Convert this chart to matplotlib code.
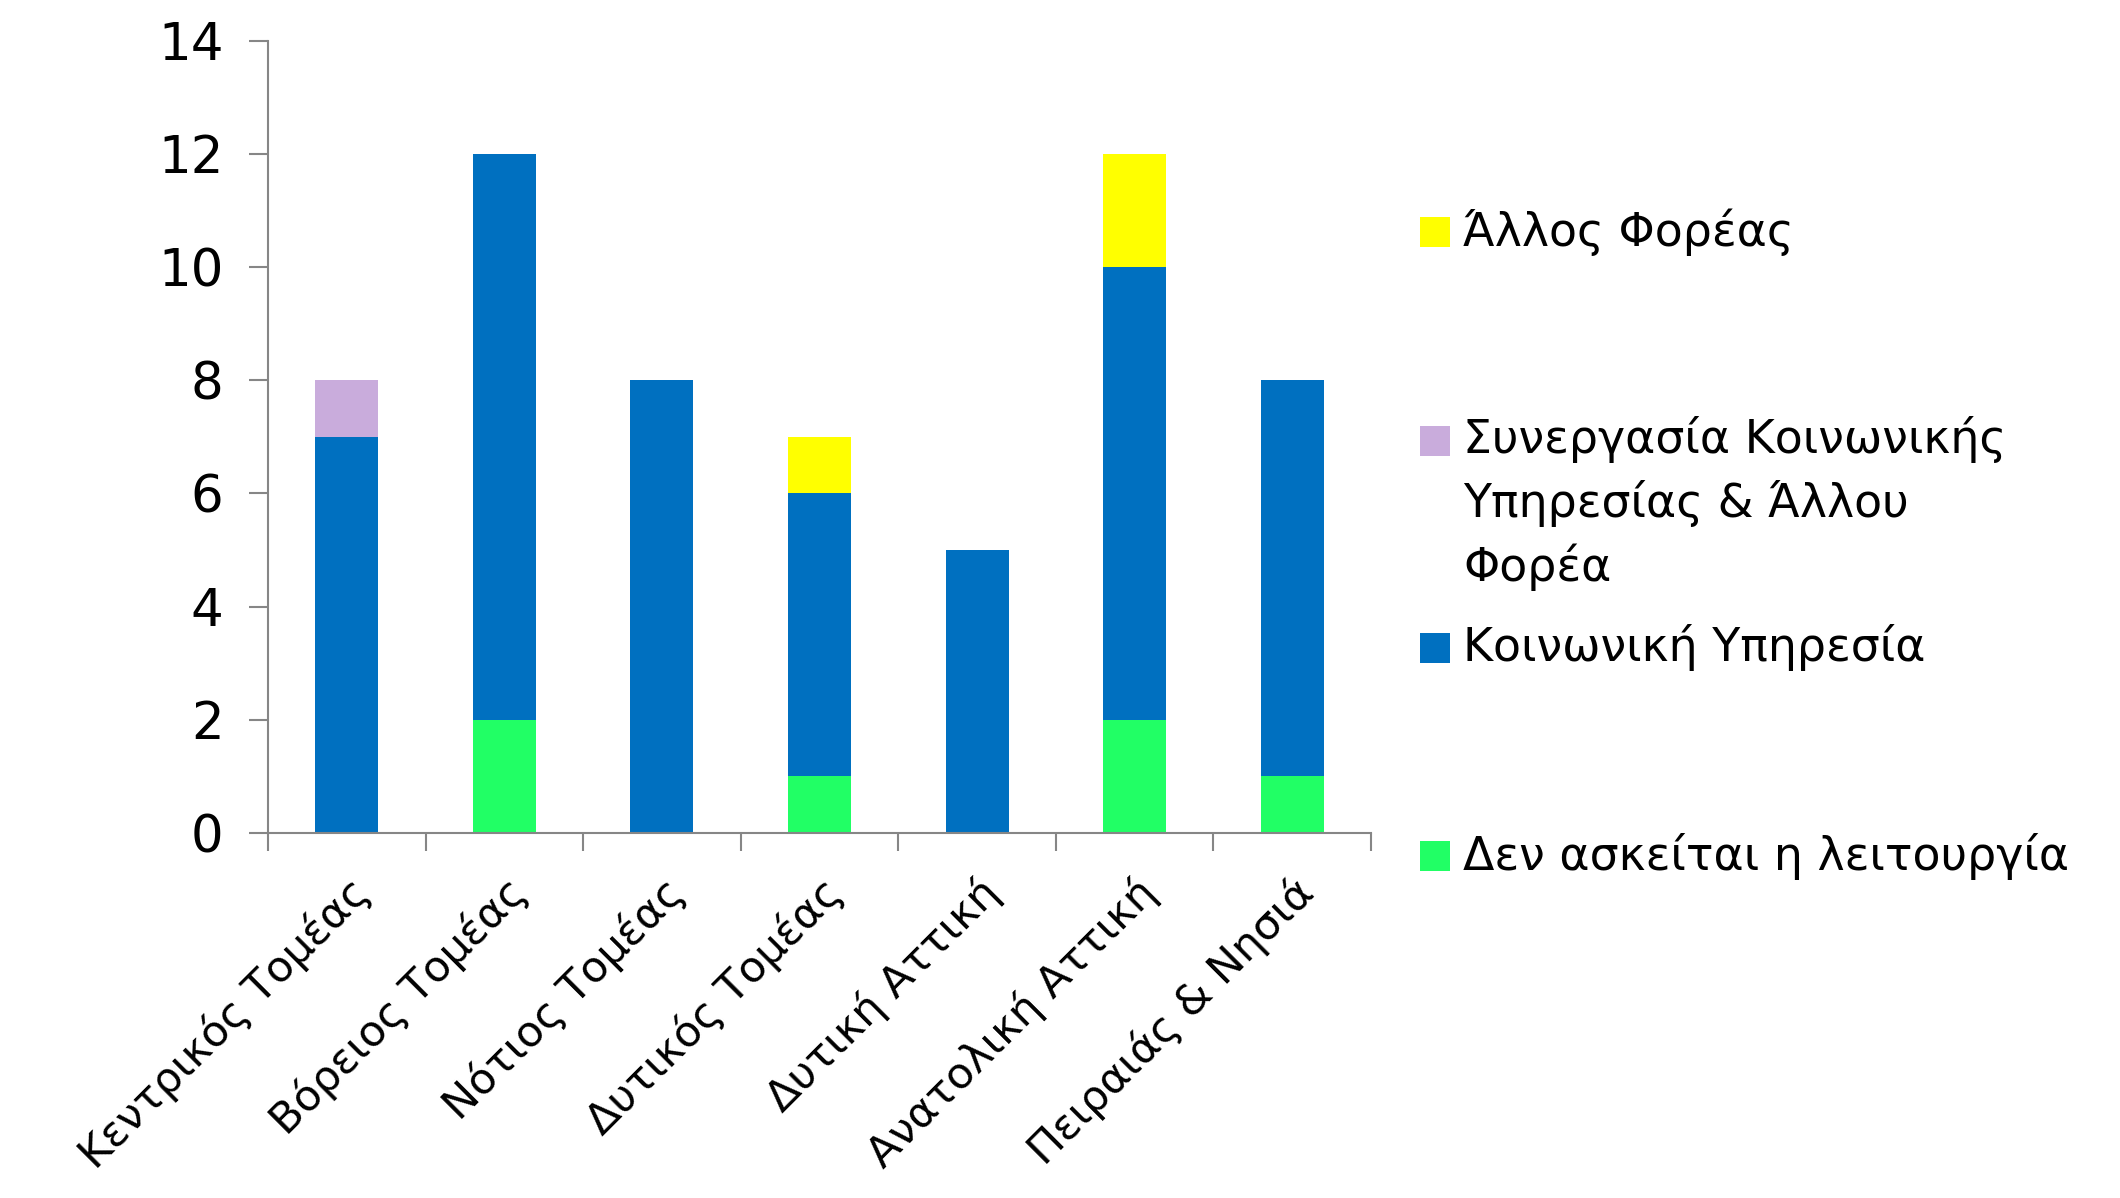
import matplotlib
matplotlib.use("Agg")
import matplotlib.pyplot as plt
import numpy as np

plt.rcParams['font.family'] = ['DejaVu Sans']

categories = ["Κεντρικός Τομέας", "Βόρειος Τομέας", "Νότιος Τομέας", "Δυτικός Τομέας",
              "Δυτική Αττική", "Ανατολική Αττική", "Πειραιάς & Νησιά"]
den_askeitai = [0, 2, 0, 1, 0, 2, 1]
koinoniki = [7, 10, 8, 5, 5, 8, 7]
synergasia = [1, 0, 0, 0, 0, 0, 0]
allos = [0, 0, 0, 1, 0, 2, 0]

series_names = ["Δεν ασκείται η λειτουργία", "Κοινωνική Υπηρεσία",
                "Συνεργασία Κοινωνικής\nΥπηρεσίας & Άλλου\nΦορέα", "Άλλος Φορέας"]
series_vals = [den_askeitai, koinoniki, synergasia, allos]
colors = ["#21FF65", "#0070C0", "#C9ACDC", "#FFFF00"]

W, H = 2120, 1198
fig = plt.figure(figsize=(W / 100, H / 100), dpi=100)
ax = fig.add_axes([268 / W, 1 - 833 / H, (1371 - 268) / W, (833 - 40.6) / H])

x = np.arange(len(categories))
bottom = np.zeros(len(categories))
for vals, c in zip(series_vals, colors):
    v = np.array(vals, dtype=float)
    ax.bar(x, v, 0.4, bottom=bottom, color=c, linewidth=0)
    bottom += v

ax.set_xlim(-0.5, len(categories) - 0.5)
ax.set_ylim(0, 14)
ax.set_yticks(np.arange(0, 15, 2))
ax.set_xticks(x)
ax.set_xticks(np.arange(-0.5, len(categories), 1), minor=True)
ax.set_xticklabels(categories, rotation=45, ha='right', rotation_mode='anchor', fontsize=31)

for s in ['top', 'right']:
    ax.spines[s].set_visible(False)
for s in ['left', 'bottom']:
    ax.spines[s].set_color('#868686')
    ax.spines[s].set_linewidth(1.5)

ax.tick_params(axis='y', direction='out', length=14, width=1.5, color='#868686', labelsize=37, pad=18)
ax.tick_params(axis='x', which='major', length=0, pad=27)
ax.tick_params(axis='x', which='minor', direction='out', length=13, width=1.5, color='#868686')

# legend drawn manually (Excel-style spacing)
leg_y = [232, 441, 648, 856]
leg_order = [3, 2, 1, 0]
for yy, idx in zip(leg_y, leg_order):
    fig.patches.append(plt.Rectangle((1420 / W, 1 - (yy + 15) / H), 30 / W, 30 / H,
                                     transform=fig.transFigure, color=colors[idx], linewidth=0))
    if '\n' in series_names[idx]:
        fig.text(1463 / W, 1 - (yy - 25) / H, series_names[idx], fontsize=33, va='top',
                 ha='left', linespacing=1.45)
    else:
        fig.text(1463 / W, 1 - yy / H, series_names[idx], fontsize=33, va='center', ha='left')

fig.savefig("out.png", dpi=100)
